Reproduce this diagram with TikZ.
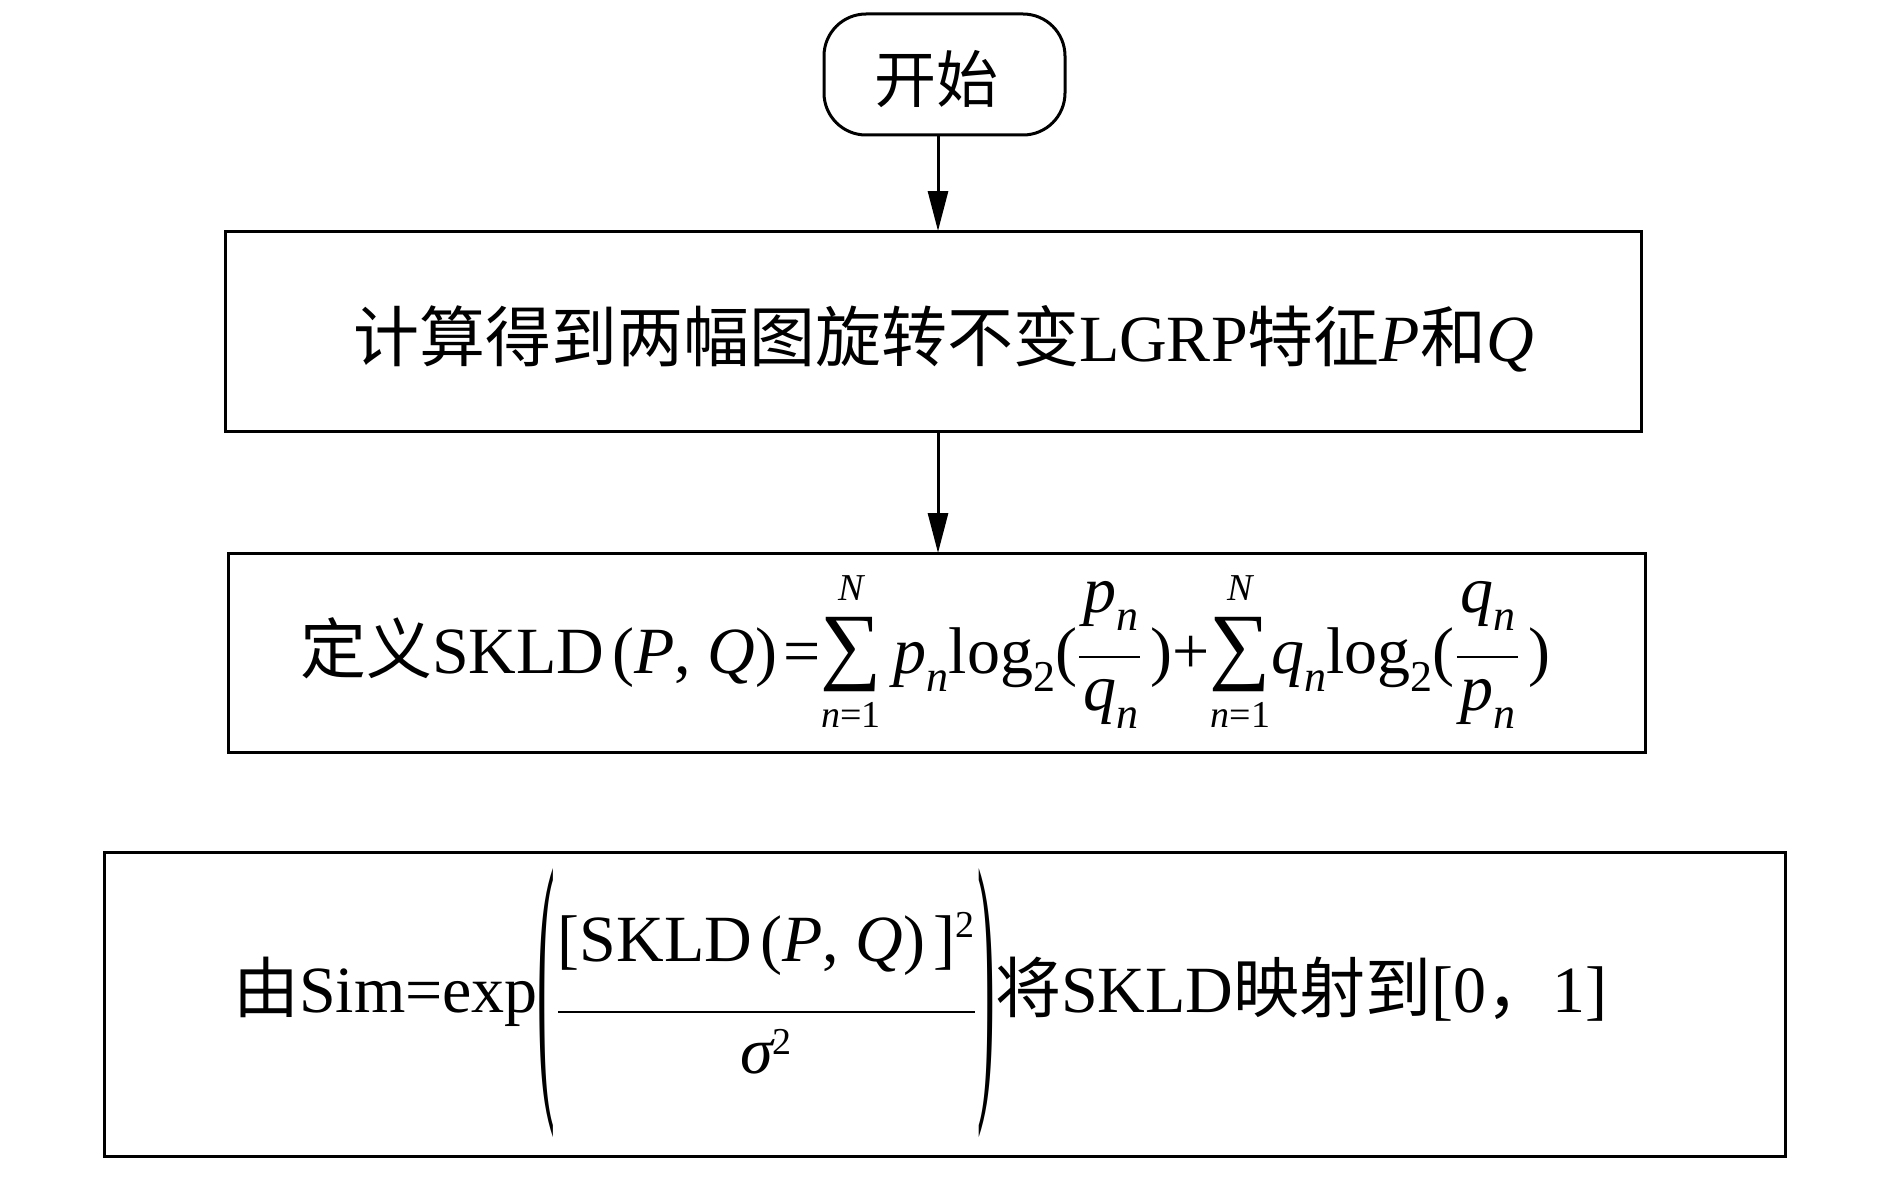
\documentclass[tikz,border=0pt]{standalone}
\usepackage{fix-cm}
\usepackage{amsmath}
\usepackage{graphicx}
\usepackage{fontspec}
\setmainfont{Liberation Serif}
\newfontfamily\cjk{Noto Sans CJK SC}
\usetikzlibrary{arrows.meta}
\newcommand{\zh}[1]{{\cjk #1}}
\newcommand{\sm}[1]{\text{\fontsize{19pt}{19pt}\selectfont #1}}
\newcommand{\subx}[1]{\raisebox{-9pt}{\fontsize{22pt}{22pt}\selectfont #1}}
\newcommand{\bigsz}{\fontsize{33pt}{40pt}\selectfont}
\newcommand{\lpar}{\raisebox{-31pt}{\scalebox{0.8}[4.5]{(}}}
\newcommand{\rpar}{\raisebox{-31pt}{\scalebox{0.8}[4.5]{)}}}
\newcommand{\bigsum}{$\mathop{\text{\scalebox{1.3}{∑}}}\limits_{\raisebox{-3pt}{\sm{\itshape n\upshape =1}}}^{\raisebox{3pt}{\sm{\itshape N}}}$}
\newcommand{\fr}[2]{$\dfrac{\raisebox{8pt}{\hspace{2pt}\textit{#1}\subx{\textit{n}}\hspace{1pt}}}{\raisebox{4pt}{\hspace{2pt}\textit{#2}\subx{\textit{n}}\hspace{1pt}}}$}
\tikzset{
  boxed/.style={draw, line width=1.5pt, inner sep=0pt, outer sep=0pt},
  txt/.style={inner sep=0pt, outer sep=0pt, font=\bigsz},
  arr/.style={line width=1.5pt, -{Triangle[length=20pt,width=10pt]}}
}
\begin{document}
\begin{tikzpicture}[x=0.5pt,y=-0.5pt]
\useasboundingbox (0,0) rectangle (1890,1177);
% boxes
\node[boxed, rounded corners=21pt, minimum width=120.5pt, minimum height=60.5pt] (start) at (944.5,74.5) {};
\node[boxed, minimum width=708pt, minimum height=100pt] (b2) at (933,331) {};
\node[boxed, minimum width=708.5pt, minimum height=99.5pt] (b3) at (936.5,652.5) {};
\node[boxed, minimum width=840.5pt, minimum height=152pt] (b4) at (944.5,1004) {};
% texts
\node[inner sep=0pt, font=\fontsize{31pt}{36pt}\selectfont, anchor=base] (t1) at (936,103) {\zh{开始}};
\node[txt, anchor=base west] (t2) at (353,361) {\zh{计算得到两幅图旋转不变}LGRP\zh{特征}\textit{P}\zh{和}\textit{Q}};
\node[txt, anchor=base west] (t3) at (300,673) {\zh{定义}SKLD\hspace{4pt}(\textit{P}, \textit{Q})\hspace{3pt}=\bigsum\hspace{6pt}\textit{p}\subx{\textit{n}}log\subx{2}(\fr{p}{q}\hspace{4pt})+\bigsum\textit{q}\subx{\textit{n}}log\subx{2}(\fr{q}{p}\hspace{4pt})};
\node[txt, anchor=base west] (t4) at (233,1012) {\zh{由}Sim=exp\lpar\raisebox{-8.25pt}{$\dfrac{\raisebox{11pt}{[SKLD\hspace{4pt}(\textit{P}, \textit{Q})\hspace{4pt}]$^{\sm{2}}$}}{\text{\itshape σ}^{\sm{2}}}$}\rpar\zh{将}SKLD\zh{映射到}[0\zh{，}1]};
% connectors
\coordinate (ax) at (938,0);
\draw[arr] (start.south -| ax) -- (b2.north -| ax);
\draw[arr] (b2.south -| ax) -- (b3.north -| ax);
\end{tikzpicture}
\end{document}
